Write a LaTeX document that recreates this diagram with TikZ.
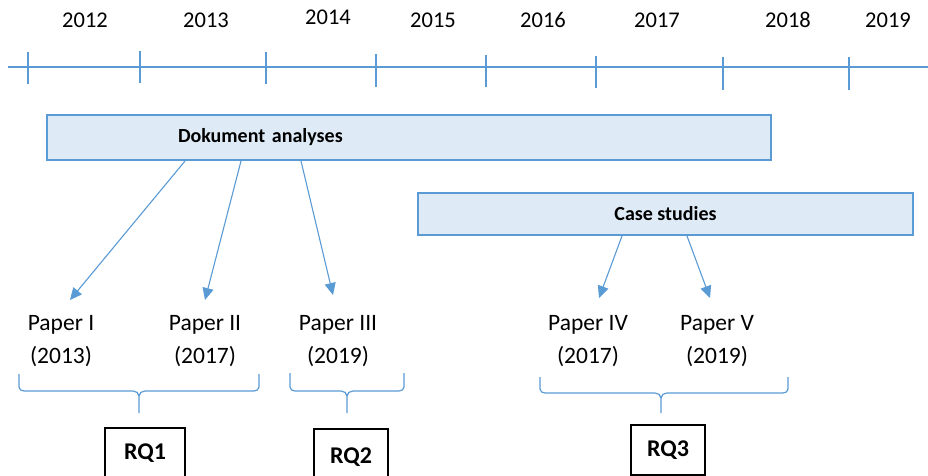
\documentclass[tikz,border=0pt]{standalone}
\usepackage{fontspec}
\setmainfont{Carlito}
\usetikzlibrary{arrows.meta}
\definecolor{lineblue}{HTML}{5B9BD5}
\definecolor{boxfill}{HTML}{DEEBF7}
\newcommand{\rqbrace}[6]{%
  \draw[bl] (#1,#4) -- (#1,#5-4) to[out=-90,in=180] (#1+5,#5) -- (#3-6,#5)
    to[out=0,in=90] (#3,#5+5) -- (#3,#6);
  \draw[bl] (#2,#4) -- (#2,#5-4) to[out=-90,in=0] (#2-5,#5) -- (#3+6,#5)
    to[out=180,in=90] (#3,#5+5);
}
\begin{document}
\begin{tikzpicture}[x=1pt,y=-1pt,
  bl/.style={draw=lineblue,line width=1.2pt},
  year/.style={font=\fontsize{22.5}{26}\selectfont},
  paper/.style={font=\fontsize{23.5}{33}\selectfont,align=center,inner sep=0pt,anchor=north},
  phase/.style={draw=lineblue,line width=2pt,fill=boxfill,font=\fontsize{20}{24}\selectfont\bfseries},
  rq/.style={draw=black,line width=1.2pt,fill=white,font=\fontsize{24}{28}\selectfont\bfseries,minimum width=74pt},
  arr/.style={draw=lineblue,line width=1.1pt,-{Triangle[length=12pt,width=11pt]}}]
\clip (0,0) rectangle (928,475);
\fill[white] (0,0) rectangle (928,475);
% timeline
\draw[bl] (8,67) -- (928,67);
\foreach \x/\a/\b in {28/52/84,140/51/83,266/52/84,376/54/87,486/55/87,596/56/88,723/57/90,849/57/90}
  \draw[bl] (\x,\a) -- (\x,\b);
\node[year] (y2012) at (85,20) {2012};
\node[year] (y2013) at (206,20) {2013};
\node[year] (y2014) at (328,17.5) {2014};
\node[year] (y2015) at (433,20) {2015};
\node[year] (y2016) at (543,20) {2016};
\node[year] (y2017) at (657,20) {2017};
\node[year] (y2018) at (788,20) {2018};
\node[year] (y2019) at (888,20) {2019};
% phases
\node[phase,anchor=west,minimum height=45pt,inner xsep=131pt,text width=462pt,align=left] (doc) at (46,137.5) {Dokument analyses};
\node[phase,minimum width=495pt,minimum height=42pt] (case) at (665.5,214) {Case studies};
% papers
\node[paper] (p1) at (61,315) {Paper I\\(2013)};
\node[paper] (p2) at (205,315) {Paper II\\(2017)};
\node[paper] (p3) at (338,315) {Paper III\\(2019)};
\node[paper] (p4) at (588,315) {Paper IV\\(2017)};
\node[paper] (p5) at (717,315) {Paper V\\(2019)};
% arrows
\draw[arr] ([xshift=139pt]doc.south west) -- ([xshift=9pt,yshift=15pt]p1.north);
\draw[arr] ([xshift=195pt]doc.south west) -- ([yshift=15pt]p2.north);
\draw[arr] ([xshift=255pt]doc.south west) -- ([xshift=-5pt,yshift=20pt]p3.north);
\draw[arr] ([xshift=205pt]case.south west) -- ([xshift=11pt,yshift=17pt]p4.north);
\draw[arr] ([xshift=270pt]case.south west) -- ([xshift=-7pt,yshift=17pt]p5.north);
% braces
\rqbrace{19}{259}{139}{374}{391}{413}
\rqbrace{290}{404}{347}{373}{391}{413}
\rqbrace{540}{788}{661}{377}{393}{413}
% research questions
\node[rq,minimum width=80pt,minimum height=50pt] (rq1) at (145,453) {RQ1};
\node[rq,minimum height=56pt] (rq2) at (351,457) {RQ2};
\node[rq,minimum height=50pt] (rq3) at (668,450) {RQ3};
\end{tikzpicture}
\end{document}
